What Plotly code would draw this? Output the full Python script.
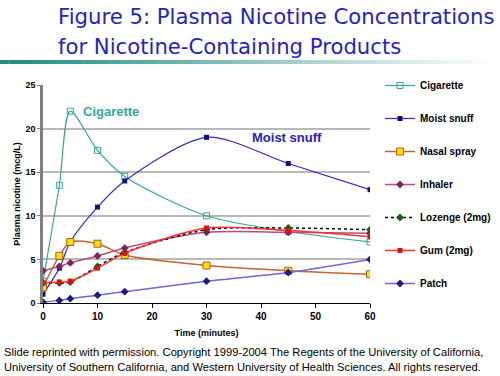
import plotly.graph_objects as go

time = [0, 3, 5, 10, 15, 30, 45, 60]
cigarette = [2.5, 13.5, 22, 17.5, 14.5, 10, 8.2, 7.0]
moist_snuff = [1.0, 4.0, 7.0, 11.0, 14.0, 19.0, 16.0, 13.0]
nasal_spray = [1.8, 5.4, 7.0, 6.8, 5.5, 4.3, 3.7, 3.3]
inhaler = [3.7, 4.2, 4.6, 5.4, 6.3, 8.1, 8.1, 8.0]
lozenge = [2.3, 2.3, 2.4, 4.2, 5.8, 8.4, 8.6, 8.4]
gum = [2.3, 2.4, 2.5, 4.0, 5.7, 8.6, 8.3, 7.6]
patch = [0.1, 0.3, 0.5, 0.9, 1.3, 2.5, 3.5, 5.0]

series = [
    ("Cigarette", cigarette, "#2FA89E", dict(symbol="square-open", size=6, color="#2FA89E", line=dict(width=1)), "solid", 1.2),
    ("Moist snuff", moist_snuff, "#2A2AE0", dict(symbol="square", size=5, color="#10107A"), "solid", 1.2),
    ("Nasal spray", nasal_spray, "#C0662E", dict(symbol="square", size=7, color="#FFE000", line=dict(color="#B05A20", width=1)), "solid", 1.5),
    ("Inhaler", inhaler, "#B0508A", dict(symbol="diamond", size=6, color="#802060"), "solid", 1.5),
    ("Lozenge (2mg)", lozenge, "#000000", dict(symbol="diamond", size=6, color="#106010"), "dot", 1.5),
    ("Gum (2mg)", gum, "#FF3030", dict(symbol="square", size=5, color="#E01010"), "solid", 1.5),
    ("Patch", patch, "#6A6AD0", dict(symbol="diamond", size=6, color="#1A1A90"), "solid", 1.5),
]

title_lines = ["Figure 5: Plasma Nicotine Concentrations", "for Nicotine-Containing Products"]

fig = go.Figure()
for name, vals, col, mk, dash, w in series:
    fig.add_trace(go.Scatter(
        x=time, y=vals, name=name, mode="lines+markers",
        line=dict(color=col, width=w, dash=dash, shape="spline", smoothing=0.8),
        marker=mk, legendgroup=name,
    ))

PW, PH = 327, 218
def px(xp):
    return (xp - 43) / PW
def py(yp):
    return (303 - yp) / PH

# gradient bar under title
n = 60
for i in range(n):
    t = i / (n - 1)
    r = int(0x1E + (255 - 0x1E) * t)
    g = int(0x8C + (255 - 0x8C) * t)
    b = int(0x7E + (255 - 0x7E) * t)
    fig.add_shape(type="rect", xref="paper", yref="paper",
                  x0=px(i * 500 / n), x1=px((i + 1.05) * 500 / n),
                  y0=py(64), y1=py(60),
                  fillcolor=f"rgb({r},{g},{b})", line=dict(width=0), layer="above")

for line, yc in zip(title_lines, [16, 46]):
    fig.add_annotation(text=line, xref="paper", yref="paper", x=px(56), y=py(yc),
                       xanchor="left", yanchor="middle", align="left", showarrow=False,
                       font=dict(family="DejaVu Sans", size=21.2, color="#2323C8"))
fig.add_annotation(text="Cigarette", x=7.0, y=22.0, xanchor="left", yanchor="middle",
                   showarrow=False, font=dict(family="Arial", size=13, color="#2FA89E", weight="bold"))
fig.add_annotation(text="Moist snuff", x=38, y=19.0, xanchor="left", yanchor="middle",
                   showarrow=False, font=dict(family="Arial", size=13, color="#2222CC", weight="bold"))
fig.add_annotation(text="Slide reprinted with permission. Copyright 1999-2004 The Regents of the University of California,<br>University of Southern California, and Western University of Health Sciences. All rights reserved.",
                   xref="paper", yref="paper", x=px(2), y=py(344),
                   xanchor="left", yanchor="top", align="left", showarrow=False,
                   font=dict(family="Arial", size=11.2, color="#000000"))

fig.update_layout(
    width=500, height=376,
    margin=dict(l=43, r=130, t=85, b=73, autoexpand=False),
    paper_bgcolor="white", plot_bgcolor="white",
    showlegend=True,
    legend=dict(x=px(380), y=py(71), xanchor="left", yanchor="top",
                font=dict(family="Arial", size=10, color="#000000", weight="bold"),
                tracegroupgap=14, bgcolor="rgba(0,0,0,0)", itemwidth=30, maxheight=400),
    xaxis=dict(range=[0, 60], tickvals=[0, 10, 20, 30, 40, 50, 60], automargin=False,
               showgrid=False, showline=True, linecolor="#000000", linewidth=1,
               ticks="outside", ticklen=4, tickcolor="#000000", zeroline=False,
               tickfont=dict(family="Arial", size=10, color="#000000", weight="bold"),
               title=dict(text="Time (minutes)", standoff=8,
                          font=dict(family="Arial", size=9, color="#000000", weight="bold"))),
    yaxis=dict(range=[0, 25], tickvals=[0, 5, 10, 15, 20, 25], automargin=False,
               showgrid=True, gridcolor="#B8B8B8", gridwidth=1.5,
               showline=True, linecolor="#808080", linewidth=2.5,
               ticks="outside", ticklen=3, tickcolor="#808080", zeroline=False,
               tickfont=dict(family="Arial", size=9, color="#000000", weight="bold"),
               title=dict(text="Plasma nicotine (mcg/L)", standoff=4,
                          font=dict(family="Arial", size=9, color="#000000", weight="bold"))),
)

fig.write_html("out.html", config={"displayModeBar": False},
               post_script="document.body.style.margin='0';document.body.style.overflow='hidden';")
